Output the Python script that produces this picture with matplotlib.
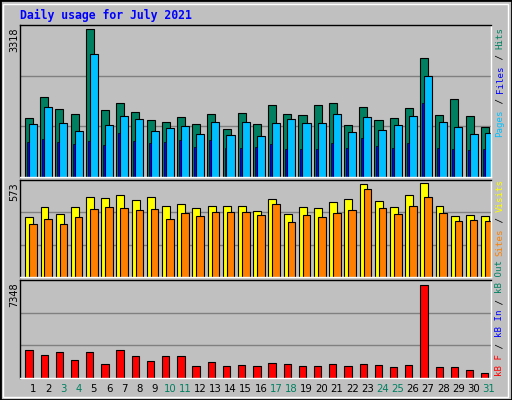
import matplotlib
matplotlib.use("Agg")
import matplotlib.pyplot as plt
from matplotlib.patches import Rectangle
import numpy as np

days = list(range(1, 32))
weekend = [3, 4, 10, 11, 17, 18, 24, 25, 31]
hits = [1336,1787,1539,1426,3318,1516,1652,1471,1291,1246,1359,1201,1426,1089,1449,1201,1629,1426,1404,1629,1652,1179,1584,1291,1336,1561,2665,1404,1764,1381,1134]
files = [1201,1584,1224,1043,2755,1179,1381,1314,1043,1111,1156,976,1246,953,1246,931,1224,1314,1224,1224,1426,1021,1359,1066,1179,1381,2260,1246,1134,976,998]
pages = [796,863,796,751,818,728,998,818,773,796,841,683,841,661,661,683,751,638,638,638,773,661,886,706,661,773,1674,661,638,616,638]
visits = [367,430,386,430,492,486,504,473,492,436,448,423,436,436,436,405,480,386,430,423,461,480,567,467,430,504,573,436,374,380,374]
sites = [324,355,324,367,417,430,423,411,417,355,392,374,399,399,399,380,448,336,380,367,392,411,536,423,386,436,492,392,343,349,343]
kbf = [2199,1797,2038,1395,2038,1073,2199,1716,1314,1716,1716,912,1234,912,992,912,1153,1073,912,912,1073,912,1073,992,831,992,7348,831,831,670,429]

W, H = 512, 400
fig = plt.figure(figsize=(W/100, H/100), dpi=100, facecolor='#C0C0C0')
fig.patches.append(Rectangle((0, 0), 1, 1, transform=fig.transFigure, fill=False, edgecolor='black', lw=2))
fig.patches.append(Rectangle((3/W, 3/H), 1-7/W, 1-7/H, transform=fig.transFigure, fill=False, edgecolor='white', lw=1))

def ax_at(x0, y0, x1, y1):
    a = fig.add_axes([x0/W, 1-y1/H, (x1-x0)/W, (y1-y0)/H])
    a.set_facecolor('#C0C0C0')
    for s in ['left', 'top']:
        a.spines[s].set_color('black')
    for s in ['right', 'bottom']:
        a.spines[s].set_color('white')
    for s in a.spines.values():
        s.set_linewidth(1)
    a.set_xticks([]); a.set_yticks([])
    a.set_xlim(0, 31)
    return a

x = np.arange(31)
ax1 = ax_at(20, 25, 491, 177)
ax1.set_ylim(0, 3416)
for g in [3416/3, 2*3416/3]:
    ax1.axhline(g, color='#808080', lw=1, zorder=0)
ax1.bar(x+0.33, hits, width=0.53, align='edge', color='#008060', edgecolor='black', lw=0.8)
ax1.bar(x+0.59, files, width=0.53, align='edge', color='#00C0FF', edgecolor='black', lw=0.8)
ax1.bar(x+0.46, pages, width=0.13, align='edge', color='#0000FF', edgecolor='black', lw=0.5)

ax2 = ax_at(20, 180, 491, 277)
ax2.set_ylim(0, 594)
for g in [594/3, 2*594/3]:
    ax2.axhline(g, color='#808080', lw=1, zorder=0)
ax2.bar(x+0.35, visits, width=0.52, align='edge', color='#FFFF00', edgecolor='black', lw=0.8)
ax2.bar(x+0.61, sites, width=0.50, align='edge', color='#FF8000', edgecolor='black', lw=0.8)

ax3 = ax_at(20, 280, 491, 378)
ax3.set_ylim(0, 7750)
for g in [7750/3, 2*7750/3]:
    ax3.axhline(g, color='#808080', lw=1, zorder=0)
ax3.bar(x+0.35, kbf, width=0.48, align='edge', color='#FF0000', edgecolor='black', lw=0.8)

for i, d in enumerate(days):
    px = 20 + (i + 0.86) * 471/31
    fig.text(px/W, 1-389/H, str(d), ha='center', va='center', fontsize=7.3,
             color='#008060' if d in weekend else 'black')

fig.text(20/W, 1-15/H, 'Daily usage for July 2021', fontsize=8.3, fontweight='bold',
         family='DejaVu Sans Mono', color='#0000FF', va='center', ha='left')

for label, ytop in [('3318', 27), ('573', 182), ('7348', 282)]:
    fig.text(14/W, 1-ytop/H, label, rotation=90, fontsize=7, ha='center', va='top')

def vlabel(pieces, ybottom, fs=6.6):
    adv = 0.602*fs*100/72
    y = ybottom
    for txt, col in pieces:
        fig.text(500/W, 1-y/H, txt, rotation=90, fontsize=fs, family='DejaVu Sans Mono',
                 color=col, ha='center', va='bottom')
        y -= adv*len(txt)

vlabel([('Pages', '#00C0FF'), (' / ', 'black'), ('Files', '#0000FF'), (' / ', 'black'), ('Hits', '#008060')], 137)
vlabel([('Sites', '#FF8000'), (' / ', 'black'), ('Visits', '#FFFF00')], 256)
vlabel([('kB F', '#FF0000'), (' / ', 'black'), ('kB In', '#0000FF'), (' / ', 'black'), ('kB Out', '#008060')], 376)

fig.savefig('out.png', dpi=100, facecolor=fig.get_facecolor())
